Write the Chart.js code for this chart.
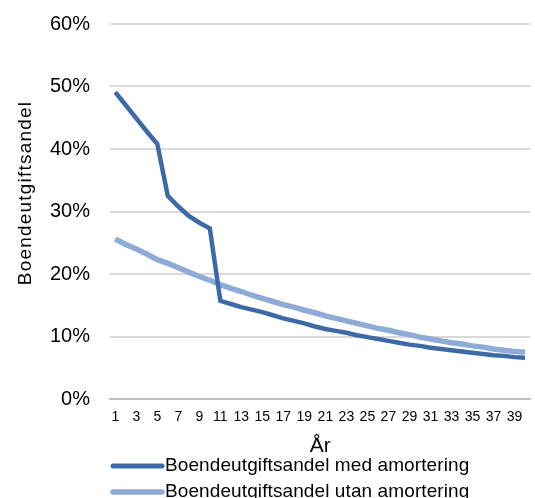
<!DOCTYPE html>
<html>
<head>
<meta charset="utf-8">
<script src="https://cdn.jsdelivr.net/npm/chart.js@4/dist/chart.umd.min.js"></script>
<style>
  html, body { margin: 0; padding: 0; background: #ffffff; }
  #wrap { position: relative; width: 535px; height: 498px; }
</style>
</head>
<body>
<div id="wrap"><canvas id="c" width="535" height="498"></canvas></div>
<script>
// Year number of each point (1..40)
const years = [1,2,3,4,5,6,7,8,9,10,11,12,13,14,15,16,17,18,19,20,
               21,22,23,24,25,26,27,28,29,30,31,32,33,34,35,36,37,38,39,40];

// Housing-cost share, % of income, with amortisation
const shareWithAmort = [49.1,47.0,44.9,42.8,40.8,32.5,30.8,29.3,28.2,27.3,
                        15.7,15.2,14.7,14.3,13.9,13.4,12.9,12.5,12.1,11.6,
                        11.2,10.9,10.6,10.2,9.9,9.6,9.3,9.0,8.7,8.5,
                        8.2,8.0,7.8,7.6,7.4,7.2,7.0,6.9,6.7,6.6];

// Housing-cost share, % of income, without amortisation
const shareNoAmort = [25.6,24.7,24.0,23.2,22.3,21.7,21.0,20.3,19.6,19.0,
                      18.3,17.7,17.2,16.6,16.1,15.6,15.1,14.7,14.2,13.8,
                      13.3,12.9,12.5,12.1,11.7,11.3,11.0,10.6,10.3,9.9,
                      9.6,9.3,9.0,8.8,8.5,8.3,8.0,7.8,7.6,7.5];

const seriesNames = ['Boendeutgiftsandel med amortering',
                     'Boendeutgiftsandel utan amortering'];
const yTitle = 'Boendeutgiftsandel';
const xTitle = 'År';

const COL_DARK = '#3d6aa7';
const COL_LIGHT = '#8eaad6';
const FONT = '"Liberation Sans", Arial, Helvetica, sans-serif';

// Rotated y-axis title and the two-row legend under the x-axis title
const extras = {
  id: 'extras',
  afterDraw(chart) {
    const ctx = chart.ctx;
    ctx.save();
    ctx.fillStyle = '#000';
    ctx.font = '19px ' + FONT;
    ctx.letterSpacing = '1.2px';
    ctx.translate(26, 193);
    ctx.rotate(-Math.PI / 2);
    ctx.textAlign = 'center';
    ctx.textBaseline = 'middle';
    ctx.fillText(yTitle, 0, 0);
    ctx.restore();

    const rows = [
      { y: 466, color: COL_DARK, width: 5 },
      { y: 492, color: COL_LIGHT, width: 5.5 }
    ];
    rows.forEach((r, i) => {
      ctx.save();
      ctx.strokeStyle = r.color;
      ctx.lineWidth = r.width;
      ctx.lineCap = 'round';
      ctx.beginPath();
      ctx.moveTo(113, r.y);
      ctx.lineTo(162, r.y);
      ctx.stroke();
      ctx.fillStyle = '#000';
      ctx.font = '19px ' + FONT;
      ctx.letterSpacing = '0.1px';
      ctx.textAlign = 'left';
      ctx.textBaseline = 'middle';
      ctx.fillText(seriesNames[i], 165, r.y);
      ctx.restore();
    });
  }
};

new Chart(document.getElementById('c'), {
  type: 'line',
  data: {
    labels: years,
    datasets: [
      {
        label: seriesNames[0],
        data: shareWithAmort,
        borderColor: COL_DARK,
        borderWidth: 4.5,
        pointRadius: 0,
        tension: 0,
        fill: false
      },
      {
        label: seriesNames[1],
        data: shareNoAmort,
        borderColor: COL_LIGHT,
        borderWidth: 5.5,
        pointRadius: 0,
        tension: 0,
        fill: false
      }
    ]
  },
  options: {
    responsive: false,
    animation: false,
    layout: { padding: { top: 24, right: 2, bottom: 39, left: 30 } },
    plugins: {
      legend: { display: false },
      tooltip: { enabled: false }
    },
    scales: {
      x: {
        offset: true,
        grid: { display: false, drawTicks: false },
        border: { display: true, color: '#bfbfbf', width: 2 },
        ticks: {
          autoSkip: false,
          maxRotation: 0,
          padding: 10,
          color: '#000',
          font: { family: FONT, size: 14 },
          callback: function (value, index) {
            return index % 2 === 0 ? this.getLabelForValue(value) : '';
          }
        },
        title: {
          display: true,
          text: xTitle,
          color: '#000',
          font: { family: FONT, size: 21 },
          padding: { top: -2, bottom: 0 }
        }
      },
      y: {
        min: 0,
        max: 60,
        afterFit: axis => { axis.paddingTop = 10; axis.paddingBottom = 10; },
        ticks: {
          stepSize: 10,
          padding: 20,
          color: '#000',
          font: { family: FONT, size: 20 },
          callback: v => v + '%'
        },
        grid: { color: '#d9d9d9', lineWidth: 2, drawTicks: false },
        border: { display: false }
      }
    }
  },
  plugins: [extras]
});
</script>
</body>
</html>
